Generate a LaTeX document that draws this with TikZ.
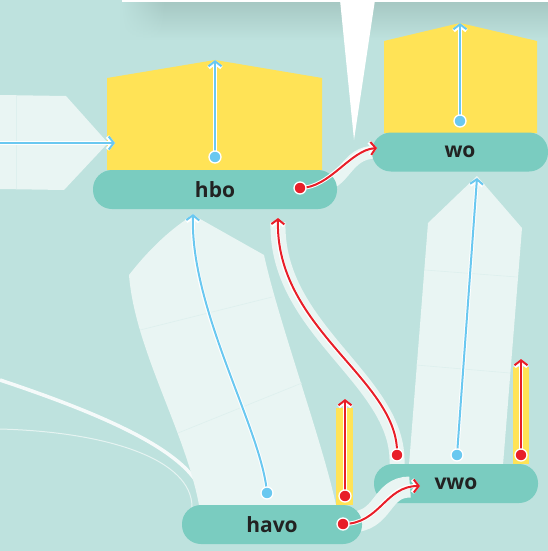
\documentclass[tikz,border=0pt]{standalone}
\usepackage{fontspec}
\setsansfont{Open Sans}
\usetikzlibrary{arrows.meta,fadings}
\definecolor{bg}{RGB}{190,226,222}
\definecolor{stagec}{RGB}{122,204,192}
\definecolor{housec}{RGB}{255,227,86}
\definecolor{palec}{RGB}{233,245,243}
\definecolor{bluec}{RGB}{106,200,240}
\definecolor{redc}{RGB}{232,30,40}
\definecolor{shadowc}{RGB}{166,200,195}
\definecolor{textc}{RGB}{34,34,34}
\tikzfading[name=fadeleft, left color=transparent!100, right color=transparent!0]
\tikzset{>/.tip={Straight Barb[length=5pt,width=13pt]},
  stage/.style={fill=stagec, rounded corners=19pt, minimum height=39pt, inner sep=0pt,
    font=\sffamily\bfseries\fontsize{21}{21}\selectfont, text=textc},
  blueline/.style={->, draw=bluec, line width=2pt, preaction={draw=white, line width=4pt}},
  redline/.style={->, draw=redc, line width=2pt, preaction={draw=white, line width=4pt}},
  halo/.style={draw=palec, line width=#1},
  dot/.style={draw=white, line width=1.3pt},
  grid/.style={draw=bg!25!palec, line width=.6pt}}

\begin{document}
\begin{tikzpicture}[x=1pt,y=-1pt]
\fill[bg] (0,0) rectangle (548,551);
\useasboundingbox (0,0) rectangle (548,551);
\shade[top color=shadowc, bottom color=bg] (165,2) rectangle (548,40);
\shade[top color=shadowc, bottom color=bg, path fading=fadeleft] (120,2) rectangle (165,40);
\fill[white] (122,0) rectangle (548,2.5);
\fill[white] (340,0) -- (375,0) -- (354,140) -- cycle;

\fill[palec] (0,95) -- (66,96) -- (108,143) -- (64,190) -- (0,189) -- cycle;
\draw[grid] (16,95) -- (16,189);
\draw[white, opacity=.85, line width=3.5pt] (0,380) .. controls (120,420) and (205,460) .. (205,507);
\draw[white, opacity=.6, line width=1pt] (0,429) .. controls (110,432) and (192,460) .. (192,507);

\fill[palec] (129,275) .. controls (150,248) and (172,228) .. (193,215) -- (264,255)
  .. controls (278,320) and (322,440) .. (336,505) -- (199,505)
  .. controls (185,430) and (135,350) .. (129,275) -- cycle;
\draw[grid] (140,330) -- (272,297);
\draw[grid] (178,433) -- (302,383);
\fill[palec] (409,465) -- (428,223) -- (477,176) -- (522,228) -- (503,465) -- cycle;
\draw[grid] (425,270) -- (517,277);
\draw[grid] (416,365) -- (510,373);

\draw[halo=15pt] (278,222) .. controls (275,330) and (400,380) .. (397,464);
\draw[halo=13pt] (320,185) .. controls (345,185) and (345,152) .. (376,152);

\fill[housec] (107,170) -- (107,78) -- (215,60) -- (322,78) -- (322,170) -- cycle;
\fill[housec] (384,133) -- (384,41) -- (460,23) -- (537,41) -- (537,133) -- cycle;
\fill[housec] (336,505) rectangle (353,408);
\fill[housec] (513,464) rectangle (529,367);

\node[stage, minimum width=244pt] (hbo) at (215,189.5) {hbo};
\node[stage, minimum width=176pt] (wo) at (460,152) {wo};
\node[stage, minimum width=164pt] (vwo) at (456,483.5) {vwo};
\draw[halo=21pt] (350,522) .. controls (385,522) and (380,487) .. (410,487);
\node[stage, minimum width=180pt] (havo) at (272,524.5) {havo};

\coordinate (west) at (0,143);
\coordinate (hbowest) at (115,143);
\coordinate (hbodot) at (215,157);
\coordinate (hbotop) at (215,60);
\coordinate (wodot) at (460,121);
\coordinate (wotop) at (460,23);
\coordinate (havodot) at (267,493);
\coordinate (hbolow) at (193,214);
\coordinate (vwodot) at (457,455);
\coordinate (wolow) at (477,178);
\coordinate (hbored) at (300,188);
\coordinate (woleft) at (377,148);
\coordinate (havored) at (343,524);
\coordinate (vwoleft) at (420,486);
\coordinate (vwored) at (397,455);
\coordinate (hbored2) at (278,218);
\coordinate (havobar) at (345,496);
\coordinate (havobartop) at (345,399);
\coordinate (vwobar) at (521,455);
\coordinate (vwobartop) at (521,359);

\draw[blueline] (west) -- (hbowest);
\draw[blueline] (hbodot) -- (hbotop);
\draw[blueline] (wodot) -- (wotop);
\draw[blueline] (havodot) .. controls (262,430) and (190,310) .. (hbolow);
\draw[blueline] (vwodot) -- (wolow);
\draw[redline] (hbored) .. controls (330,188) and (350,150) .. (woleft);
\draw[redline] (havored) .. controls (380,524) and (385,486) .. (vwoleft);
\draw[redline] (vwored) .. controls (400,380) and (275,330) .. (hbored2);
\draw[redline] (havobar) -- (havobartop);
\draw[redline] (vwobar) -- (vwobartop);

\foreach \c in {hbodot,wodot,havodot,vwodot}
  \filldraw[dot, fill=bluec] (\c) circle (6);
\foreach \c in {hbored,havored,vwored,havobar,vwobar}
  \filldraw[dot, fill=redc] (\c) circle (6);
\end{tikzpicture}
\end{document}
